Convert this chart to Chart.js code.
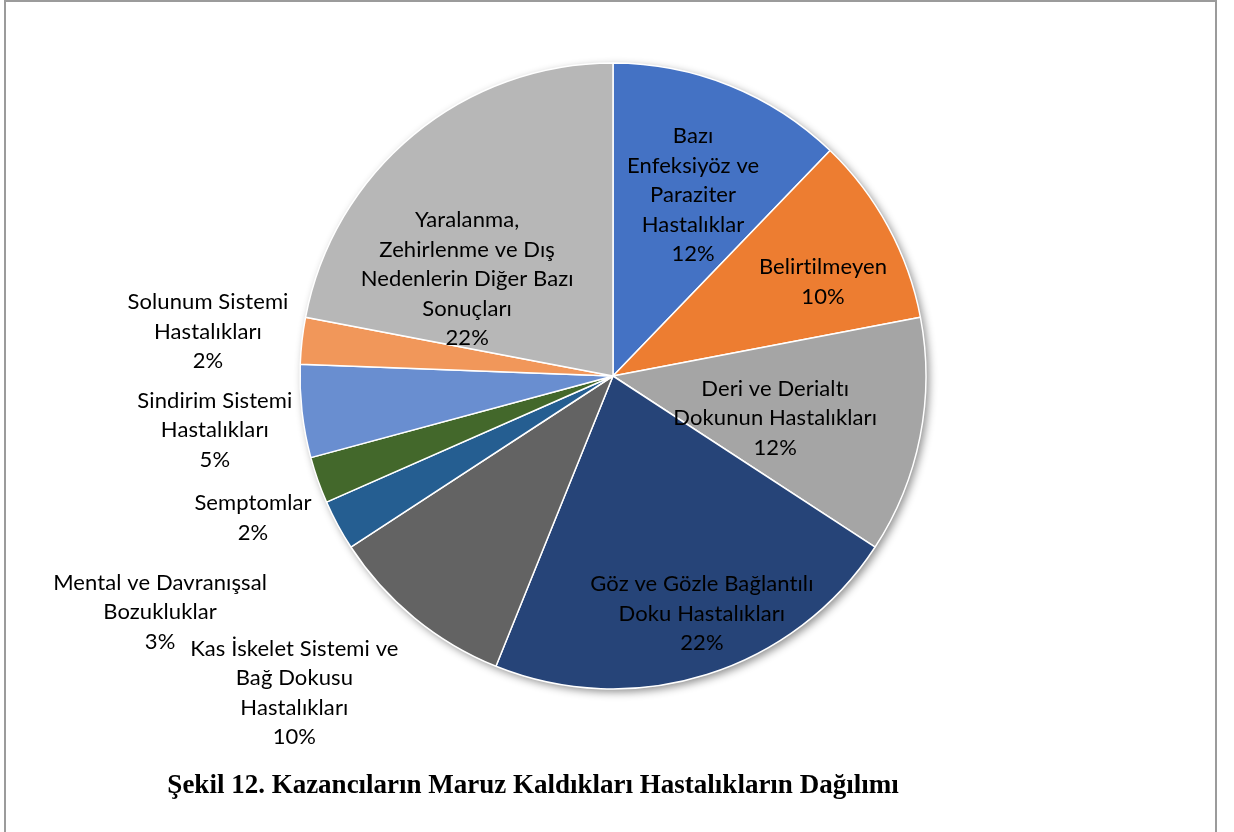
<!DOCTYPE html>
<html>
<head>
<meta charset="utf-8">
<script src="https://cdn.jsdelivr.net/npm/chart.js@4"></script>
<style>
    body { margin: 0; background: #fff; }
    #frame { position: absolute; left: 4px; top: 0; width: 1209px; height: 840px; border: 2px solid #9b9b9b; border-bottom: none; }
    #chart { position: absolute; left: 0; top: 0; }
    #title { position: absolute; left: 0; width: 1066px; top: 769px; text-align: center; font: bold 27px "Liberation Serif", "Times New Roman", serif; color: #000; }
</style>
</head>
<body>
<div id="frame"></div>
<canvas id="chart" width="1234" height="832"></canvas>
<div id="title">Şekil 12. Kazancıların Maruz Kaldıkları Hastalıkların Dağılımı</div>
<script>
// dilimler, saat yönünde tepeden başlayarak
const categories = [
    "Bazı\nEnfeksiyöz ve\nParaziter\nHastalıklar",
    "Belirtilmeyen",
    "Deri ve Derialtı\nDokunun Hastalıkları",
    "Göz ve Gözle Bağlantılı\nDoku Hastalıkları",
    "Kas İskelet Sistemi ve\nBağ Dokusu\nHastalıkları",
    "Mental ve Davranışsal\nBozukluklar",
    "Semptomlar",
    "Sindirim Sistemi\nHastalıkları",
    "Solunum Sistemi\nHastalıkları",
    "Yaralanma,\nZehirlenme ve Dış\nNedenlerin Diğer Bazı\nSonuçları"
];
const values = [12.2, 9.8, 12.2, 21.9, 9.7, 2.6, 2.4, 4.8, 2.4, 22.0];
const colors = ["#4472C4", "#ED7D31", "#A5A5A5", "#264478", "#636363",
                "#255E91", "#43682B", "#698ED0", "#F1975A", "#B7B7B7"];

// etiket merkezleri, pasta merkezine göre (yarıçap birimi)
const labelOffset = [
    [0.256, -0.578], [0.671, -0.300], [0.518, 0.134], [0.284, 0.760], [-1.018, 1.013],
    [-1.447, 0.754], [-1.150, 0.454], [-1.272, 0.173], [-1.294, -0.141], [-0.466, -0.310]
];

const shadowPlugin = {
    id: 'pieShadow',
    beforeDatasetsDraw(chart) {
        const arc = chart.getDatasetMeta(0).data[0];
        const ctx = chart.ctx;
        ctx.save();
        ctx.shadowColor = 'rgba(0,0,0,0.45)';
        ctx.shadowBlur = 9;
        ctx.shadowOffsetX = 3;
        ctx.shadowOffsetY = 3;
        ctx.beginPath();
        ctx.arc(arc.x, arc.y, arc.outerRadius, 0, Math.PI * 2);
        ctx.fillStyle = '#fff';
        ctx.fill();
        ctx.restore();
    }
};

const labelPlugin = {
    id: 'sliceLabels',
    afterDatasetsDraw(chart) {
        const ctx = chart.ctx;
        const arcs = chart.getDatasetMeta(0).data;
        const total = values.reduce((a, b) => a + b, 0);
        ctx.save();
        ctx.font = '22px Lato';
        ctx.letterSpacing = '0.1px'; // "ti" bitişik harfini engellemek için
        ctx.fillStyle = '#000';
        ctx.textAlign = 'center';
        ctx.textBaseline = 'middle';
        arcs.forEach((arc, i) => {
            const r = arc.outerRadius;
            const cx = arc.x + labelOffset[i][0] * r;
            const cy = arc.y + labelOffset[i][1] * r;
            const lines = categories[i].split('\n').concat(Math.round(values[i] / total * 100) + '%');
            const lh = 29.5;
            lines.forEach((t, k) => ctx.fillText(t, cx, cy + (k - (lines.length - 1) / 2) * lh));
        });
        ctx.restore();
    }
};

var ctx = document.getElementById("chart").getContext("2d");
var chart = new Chart(ctx, {
    type: "pie",
    data: {
        labels: categories,
        datasets: [{
            data: values,
            backgroundColor: colors,
            borderColor: "#FFFFFF",
            borderWidth: 1.5,
            hoverOffset: 0
        }]
    },
    options: {
        responsive: false,
        animation: false,
        radius: 313,
        layout: { padding: { left: 300, right: 308, top: 63, bottom: 143 } },
        plugins: {
            legend: { display: false },
            tooltip: { enabled: false }
        }
    },
    plugins: [shadowPlugin, labelPlugin]
});
</script>
</body>
</html>
